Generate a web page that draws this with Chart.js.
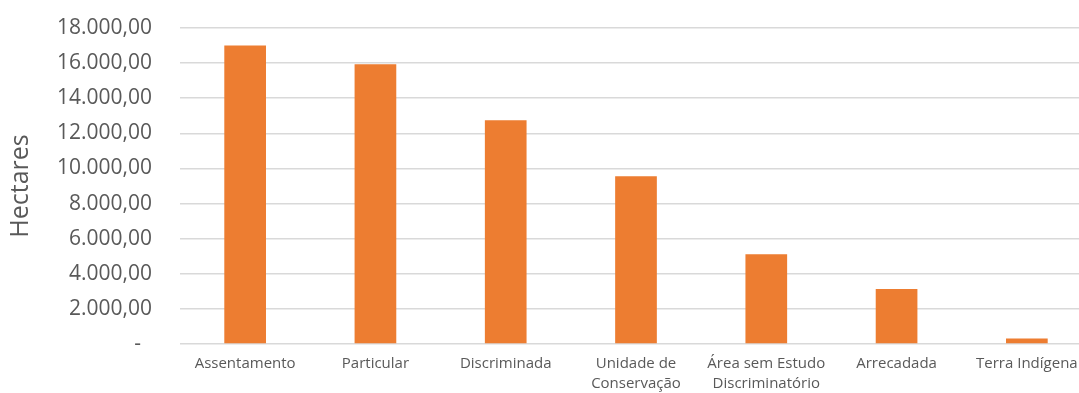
<!DOCTYPE html>
<html>
<head>
<meta charset="utf-8">
<script src="https://cdn.jsdelivr.net/npm/chart.js@4"></script>
<style>
  html, body { margin: 0; padding: 0; background: #fff; overflow: hidden; }
</style>
</head>
<body>
<canvas id="areaChart" width="1092" height="393"></canvas>
<script>
const categories = [
  'Assentamento',
  'Particular',
  'Discriminada',
  ['Unidade de', 'Conservação'],
  ['Área sem Estudo', 'Discriminatório'],
  'Arrecadada',
  'Terra Indígena'
];
const hectares = [17000, 15930, 12750, 9550, 5110, 3140, 310];

const yMin = 0;
const yMax = 18000;
const yStep = 2000;

// 18000 -> "18.000,00", zero shown as a dash
function fmtHectares(v) {
  if (v === 0) return '-  ';
  const parts = v.toFixed(2).split('.');
  const whole = parts[0].replace(/\B(?=(\d{3})+(?!\d))/g, '.');
  return whole + ',' + parts[1];
}

const grey = '#595959';
const ctx = document.getElementById('areaChart').getContext('2d');

new Chart(ctx, {
  type: 'bar',
  data: {
    labels: categories,
    datasets: [{
      label: 'Hectares',
      data: hectares,
      backgroundColor: '#ED7D31',
      barPercentage: 0.32,
      categoryPercentage: 1.0
    }]
  },
  options: {
    responsive: false,
    animation: false,
    layout: { padding: { top: 28, right: 0, bottom: -10, left: 0 } },
    scales: {
      x: {
        grid: { display: false, drawTicks: false },
        border: { display: false },
        ticks: {
          color: grey,
          padding: 10,
          maxRotation: 0,
          autoSkip: false,
          font: { family: '"Open Sans", sans-serif', size: 15, lineHeight: 1.3 }
        }
      },
      y: {
        min: yMin,
        max: yMax,
        afterFit: scale => {
          scale.width = 180;
          // tick labels may overhang the plot; layout padding handles it
          scale.paddingTop = 0;
          scale.paddingBottom = 0;
        },
        grid: { color: '#d9d9d9', lineWidth: 1.5, drawTicks: false },
        border: { display: false },
        ticks: {
          stepSize: yStep,
          color: grey,
          padding: 28,
          font: { family: '"Open Sans", sans-serif', size: 21 },
          callback: v => fmtHectares(v)
        },
        title: {
          display: true,
          text: 'Hectares',
          color: grey,
          padding: { top: 6, bottom: 0 },
          font: { family: '"Open Sans", sans-serif', size: 25 }
        }
      }
    },
    plugins: {
      legend: { display: false },
      tooltip: { enabled: false }
    }
  }
});
</script>
</body>
</html>
